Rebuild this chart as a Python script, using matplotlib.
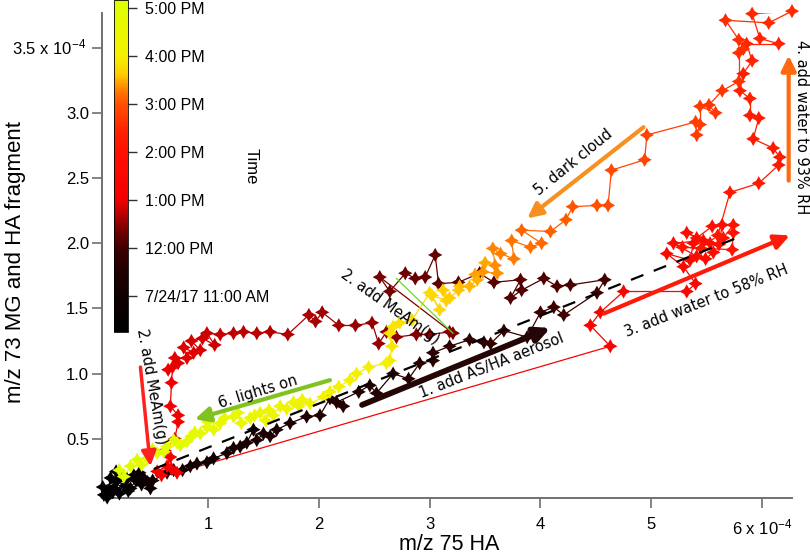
import numpy as np
import matplotlib
matplotlib.use("Agg")
import matplotlib.pyplot as plt
from matplotlib.colors import LinearSegmentedColormap, Normalize
from matplotlib.collections import LineCollection
from matplotlib.path import Path
import matplotlib.colorbar as mcolorbar

plt.rcParams["font.family"] = ["Liberation Sans", "DejaVu Sans"]
plt.rcParams["mathtext.default"] = "regular"

# ---------------- data: x, y in units of 1e-4 ; t in hours (7/24/17) -------------
x1 = [0.10, 0.15, 0.06, 0.20, 0.12, 0.09, 0.25, 0.18, 0.05, 0.30, 0.22, 0.17, 0.35, 0.28, 0.14, 0.40, 0.33, 0.27,
      0.45, 0.38, 0.48, 0.42]
y1 = [0.10, 0.12, 0.07, 0.08, 0.20, 0.05, 0.14, 0.18, 0.13, 0.12, 0.22, 0.25, 0.18, 0.10, 0.09, 0.15, 0.22, 0.19,
      0.17, 0.24, 0.12, 0.20]
t1 = [10.25, 10.28, 10.30, 10.33, 10.36, 10.38, 10.41, 10.44, 10.46, 10.48, 10.50, 10.52, 10.54, 10.57, 10.61, 10.65,
      10.70, 10.75, 10.80, 10.86, 10.91, 10.96]

x2 = [0.50, 0.63, 0.69, 0.77, 0.84, 0.90, 0.99, 1.05, 1.17, 1.23, 1.29, 1.35, 1.41, 1.44, 1.50, 1.56, 1.62, 1.74, 1.89, 2.01,
      2.10, 2.22, 2.16, 2.36, 2.46, 2.52, 2.67, 2.81, 2.91, 3.03, 3.03, 3.18, 3.36, 3.49, 3.55, 3.67, 3.88, 4.00, 4.12, 4.21,
      4.51, 4.58]
y2 = [0.18, 0.24, 0.26, 0.26, 0.29, 0.31, 0.32, 0.35, 0.39, 0.43, 0.44, 0.47, 0.57, 0.49, 0.54, 0.52, 0.57, 0.62, 0.67, 0.68,
      0.81, 0.75, 0.78, 0.86, 0.91, 0.85, 1.00, 0.96, 1.08, 1.10, 1.16, 1.21, 1.26, 1.24, 1.23, 1.33, 1.28, 1.47, 1.51, 1.45,
      1.62, 1.72]
t2 = [11.00, 11.02, 11.04, 11.06, 11.08, 11.10, 11.12, 11.14, 11.17, 11.19, 11.21, 11.23, 11.25, 11.27, 11.29, 11.31, 11.33,
      11.36, 11.39, 11.42, 11.45, 11.48, 11.50, 11.53, 11.56, 11.59, 11.62, 11.65, 11.68, 11.71, 11.73, 11.76, 11.79, 11.82,
      11.84, 11.87, 11.90, 11.93, 11.95, 11.97, 12.00, 12.03]

x3 = [4.27, 4.15, 4.03, 3.83, 3.73, 3.82, 3.58, 3.45, 3.26, 3.08, 3.05, 2.96, 2.87, 2.78, 2.64, 2.55, 3.21]
y3 = [1.68, 1.67, 1.73, 1.64, 1.58, 1.72, 1.70, 1.77, 1.70, 1.69, 1.91, 1.74, 1.73, 1.77, 1.63, 1.74, 1.31]
t3 = [12.06, 12.08, 12.10, 12.12, 12.14, 12.16, 12.18, 12.20, 12.22, 12.24, 12.26, 12.28, 12.30, 12.32, 12.34, 12.36, 12.40]

x4 = [3.18, 3.00, 2.88, 2.70, 2.61, 2.54, 2.48, 2.33, 2.18, 2.03, 1.97, 1.91, 1.72, 1.56, 1.44, 1.32, 1.23, 1.11, 0.99, 1.06,
      0.95, 0.85, 0.93, 0.87, 0.78, 0.81, 0.70, 0.73, 0.64, 0.68, 0.67, 0.66, 0.73, 0.73, 0.70, 0.61, 0.66, 0.63, 0.54, 0.67,
      0.58, 0.72]
y4 = [1.32, 1.30, 1.30, 1.28, 1.32, 1.23, 1.39, 1.37, 1.37, 1.47, 1.40, 1.45, 1.30, 1.32, 1.31, 1.32, 1.31, 1.30, 1.31, 1.22,
      1.27, 1.25, 1.18, 1.16, 1.20, 1.12, 1.12, 1.08, 1.03, 1.05, 0.93, 0.75, 0.68, 0.63, 0.50, 0.41, 0.36, 0.29, 0.25, 0.27,
      0.22, 0.24]
t4 = [12.42, 12.44, 12.46, 12.48, 12.50, 12.52, 12.54, 12.56, 12.58, 12.60, 12.62, 12.64, 12.67, 12.70, 12.72, 12.74, 12.76,
      12.78, 12.80, 12.82, 12.84, 12.86, 12.88, 12.90, 12.92, 12.93, 12.94, 12.95, 12.96, 12.97, 12.98, 13.00, 13.02, 13.04,
      13.06, 13.08, 13.10, 13.12, 13.14, 13.16, 13.18, 13.20]

x5 = [4.63, 4.45, 4.54, 4.75, 5.32, 5.40, 5.29, 5.14, 5.35, 5.38, 5.47, 5.20, 5.41, 5.49, 5.56, 5.53, 5.32, 5.41, 5.55, 5.64,
      5.61, 5.65, 5.74, 5.74, 5.73, 5.28, 5.45, 5.60]
y5 = [1.21, 1.37, 1.47, 1.63, 1.63, 1.69, 1.82, 1.92, 1.87, 2.00, 2.02, 2.00, 1.90, 1.88, 1.93, 2.00, 2.08, 2.04, 2.13, 2.14,
      1.99, 2.04, 2.14, 2.08, 1.95, 1.97, 1.96, 2.06]
t5 = [13.25, 13.30, 13.35, 13.40, 13.45, 13.50, 13.53, 13.56, 13.59, 13.62, 13.65, 13.68, 13.71, 13.74, 13.77, 13.80, 13.83,
      13.86, 13.89, 13.92, 13.95, 13.98, 14.01, 14.04, 14.07, 14.10, 14.13, 14.16]

x6 = [5.71, 5.97, 6.15, 6.16, 6.10, 5.92, 5.97, 5.89, 5.89, 5.80, 5.83, 5.91, 5.86, 6.15, 5.98, 5.91, 6.27, 6.06, 5.67, 5.79,
      5.83, 5.79, 5.79, 5.64, 5.52, 5.58, 5.44, 5.44, 5.41, 5.40, 4.96]
y6 = [2.39, 2.46, 2.60, 2.66, 2.73, 2.80, 2.96, 2.98, 3.11, 3.17, 3.30, 3.40, 3.53, 3.53, 3.57, 3.76, 3.78, 3.69, 3.71, 3.56,
      3.49, 3.46, 3.24, 3.17, 3.06, 3.00, 3.05, 2.91, 2.83, 2.93, 2.83]
t6 = [14.20, 14.22, 14.24, 14.26, 14.28, 14.30, 14.32, 14.34, 14.36, 14.38, 14.40, 14.42, 14.44, 14.46, 14.48, 14.50, 14.52,
      14.54, 14.56, 14.58, 14.60, 14.62, 14.64, 14.66, 14.68, 14.70, 14.72, 14.74, 14.76, 14.78, 14.82]

x7 = [4.94, 4.64, 4.61, 4.51, 4.29, 4.23, 4.09, 3.83, 4.01, 3.91, 3.74, 3.76, 3.64, 3.57, 3.59, 3.61, 3.48, 3.41, 3.50, 3.43,
      3.36, 3.27, 3.26, 3.18, 3.12, 3.15, 3.02, 3.09, 3.00]
y7 = [2.64, 2.56, 2.29, 2.29, 2.28, 2.18, 2.09, 2.10, 2.00, 1.97, 2.02, 1.88, 1.92, 1.96, 1.83, 1.77, 1.78, 1.76, 1.85, 1.72,
      1.67, 1.67, 1.64, 1.58, 1.64, 1.56, 1.60, 1.49, 1.62]
t7 = [14.86, 14.90, 14.94, 14.98, 15.02, 15.06, 15.10, 15.14, 15.17, 15.20, 15.23, 15.26, 15.29, 15.32, 15.35, 15.38, 15.41,
      15.44, 15.47, 15.50, 15.53, 15.56, 15.59, 15.62, 15.65, 15.68, 15.71, 15.74, 15.77]

x8 = [2.84, 2.73, 2.67, 2.64, 2.66, 2.64, 2.61, 2.45, 2.34, 2.28, 2.18, 2.10, 2.04, 1.92, 1.85, 1.82, 1.77, 1.71, 1.65, 1.59,
      1.55, 1.52, 1.47, 1.42, 1.38, 1.30, 1.27, 1.23, 1.15, 1.11, 1.05, 1.00, 0.99, 0.93, 0.88, 0.85, 0.81, 0.75, 0.72, 0.69,
      0.63, 0.60, 0.54, 0.50, 0.45, 0.40, 0.36, 0.30, 0.24, 0.20]
y8 = [1.41, 1.39, 1.36, 1.31, 1.21, 1.10, 1.08, 1.05, 1.00, 0.95, 0.90, 0.86, 0.82, 0.77, 0.80, 0.75, 0.78, 0.73, 0.75, 0.68,
      0.72, 0.64, 0.70, 0.68, 0.66, 0.62, 0.70, 0.67, 0.66, 0.62, 0.57, 0.63, 0.59, 0.54, 0.55, 0.52, 0.48, 0.45, 0.47, 0.49,
      0.44, 0.40, 0.39, 0.42, 0.35, 0.30, 0.34, 0.29, 0.21, 0.26]
t8 = [15.80, 15.83, 15.86, 15.89, 15.92, 15.95, 15.98, 16.01, 16.04, 16.07, 16.10, 16.13, 16.16, 16.19, 16.22, 16.25, 16.28,
      16.31, 16.34, 16.37, 16.40, 16.43, 16.46, 16.49, 16.52, 16.55, 16.58, 16.61, 16.63, 16.65, 16.67, 16.69, 16.71, 16.73,
      16.75, 16.77, 16.79, 16.81, 16.83, 16.85, 16.87, 16.89, 16.91, 16.93, 16.95, 16.97, 16.99, 17.02, 17.06, 17.10]

# fit line (dashed) and pointer line
fit_x = [0.10, 5.80]
fit_y = [0.13, 2.05]
pointer_x = [2.70, 3.21]
pointer_y = [1.73, 1.31]

# colour scale
cmap_hours = [10.25, 11.0, 11.62, 12.0, 12.33, 12.75, 13.0, 14.0, 14.42, 15.0, 15.22, 15.45, 15.62, 16.0, 17.1667]
cmap_colors = ['#000000', '#100000', '#250000', '#400000', '#700000', '#c00000', '#f20000', '#ff1000',
               '#ff2000', '#ff5000', '#ff7000', '#ffa000', '#ffcc00', '#f5f000', '#ddff00']
cbar_ticks = [11, 12, 13, 14, 15, 16, 17]
cbar_labels = ['7/24/17 11:00 AM', '12:00 PM', '1:00 PM', '2:00 PM', '3:00 PM', '4:00 PM', '5:00 PM']

xticks = [1, 2, 3, 4, 5, 6]
xticklabels = ['1', '2', '3', '4', '5', '6 x 10$^{-4}$']
yticks = [0.5, 1.0, 1.5, 2.0, 2.5, 3.0, 3.5]
yticklabels = ['0.5', '1.0', '1.5', '2.0', '2.5', '3.0', '']

# ---------------------------------------------------------------------------------
x = np.array(x1 + x2 + x3 + x4 + x5 + x6 + x7 + x8)
y = np.array(y1 + y2 + y3 + y4 + y5 + y6 + y7 + y8)
t = np.array(t1 + t2 + t3 + t4 + t5 + t6 + t7 + t8)

vmin, vmax = cmap_hours[0], cmap_hours[-1]
pos = [(h - vmin) / (vmax - vmin) for h in cmap_hours]
cmap = LinearSegmentedColormap.from_list('timecmap', list(zip(pos, cmap_colors)))
norm = Normalize(vmin=vmin, vmax=vmax)

fig = plt.figure(figsize=(8.1, 5.55), dpi=100)
ax = fig.add_axes([102 / 810, 57 / 555, 690 / 810, 485.3 / 555])
ax.set_xlim(0.043, 6.27)
ax.set_ylim(0.046, 3.768)

for s in ['top', 'right']:
    ax.spines[s].set_visible(False)
for s in ['left', 'bottom']:
    ax.spines[s].set_color('#707070')
    ax.spines[s].set_linewidth(1.4)

ax.set_xticks(xticks)
ax.set_xticklabels(xticklabels)
ax.set_yticks(yticks)
ax.set_yticklabels(yticklabels)
ax.tick_params(axis='both', direction='out', length=7.2, width=1.2, color='#707070', labelsize=12)
ax.tick_params(axis='x', pad=6.5)
ax.tick_params(axis='y', pad=2.2)

# star marker (4-point)
k = 0.36
star = Path([(0, 1), (k, k), (1, 0), (k, -k), (0, -1), (-k, -k), (-1, 0), (-k, k), (0, 1)],
            [Path.MOVETO] + [Path.LINETO] * 7 + [Path.CLOSEPOLY])

pts = np.column_stack([x, y])
segs = np.stack([pts[:-1], pts[1:]], axis=1)
seg_t = 0.5 * (t[:-1] + t[1:])
lc = LineCollection(segs, colors=cmap(norm(seg_t)), linewidths=0.9, zorder=2)
ax.add_collection(lc)
ax.scatter(x, y, c=t, cmap=cmap, norm=norm, marker=star, s=105, linewidths=0, zorder=3, clip_on=False)

ax.plot(fit_x, fit_y, color='black', lw=1.6, dashes=(6, 5), zorder=4)
ax.plot(pointer_x, pointer_y, color='#66dd22', lw=0.9, zorder=4)

def arrow(tail, head, color, lw):
    ax.annotate('', xy=head, xytext=tail, xycoords='data', textcoords='data',
                arrowprops=dict(arrowstyle='-|>,head_length=0.45,head_width=0.22', color=color, lw=lw,
                                shrinkA=0, shrinkB=0, mutation_scale=20), zorder=5, annotation_clip=False)

arrow((2.39, 0.76), (4.09, 1.35), '#240606', 4.2)
arrow((4.57, 1.46), (6.25, 2.06), '#ff1a0a', 3.0)
arrow((6.24, 2.48), (6.24, 3.44), '#ff6a10', 3.0)
arrow((4.93, 2.89), (3.88, 2.19), '#f7901e', 3.0)
arrow((2.10, 0.95), (0.88, 0.65), '#7fc31c', 3.0)
arrow((0.39, 1.05), (0.48, 0.29), '#ff2020', 2.5)

afont = dict(family='DejaVu Sans', fontsize=10.5, ha='center', va='center', rotation_mode='anchor', zorder=6)
ax.text(3.56, 1.06, '1. add AS/HA aerosol', rotation=21.5, **afont)
ax.text(5.50, 1.56, '3. add water to 58% RH', rotation=21.5, **afont)
ax.text(6.36, 2.89, '4. add water to 93% RH', rotation=-90, clip_on=False, **afont)
ax.text(4.30, 2.62, '5. dark cloud', rotation=39, **afont)
ax.text(1.45, 0.86, '6. lights on', rotation=17, **afont)
ax.text(0.49, 0.90, '2. add MeAm(g)', rotation=-80, **afont)
ax.text(2.64, 1.51, '2. add MeAm(g)', rotation=-35.5, **afont)

# top y tick label with exponent
fig.text(86 / 810, 1 - 47.6 / 555, '3.5 x 10$^{-4}$', ha='right', va='center', fontsize=12)

# axis labels
fig.text(16 / 810, 1 - 262 / 555, 'm/z 73 MG and HA fragment', rotation=90, ha='center', va='center', fontsize=16)
fig.text(449 / 810, 1 - 545 / 555, 'm/z 75 HA', ha='center', va='center', fontsize=15.5)

# colour bar
cax = fig.add_axes([114 / 810, (555 - 332) / 555, 14 / 810, 332 / 555])
cb = mcolorbar.ColorbarBase(cax, cmap=cmap, norm=norm, orientation='vertical', ticks=cbar_ticks)
cb.set_ticklabels(cbar_labels)
cb.outline.set_linewidth(0.6)
cax.tick_params(direction='out', length=6.5, width=1.0, color='#333333', labelsize=11.5, pad=5.5)
fig.text(251 / 810, 1 - 166 / 555, 'Time', rotation=-90, ha='center', va='center', fontsize=12)

fig.savefig('out.png', dpi=100)
